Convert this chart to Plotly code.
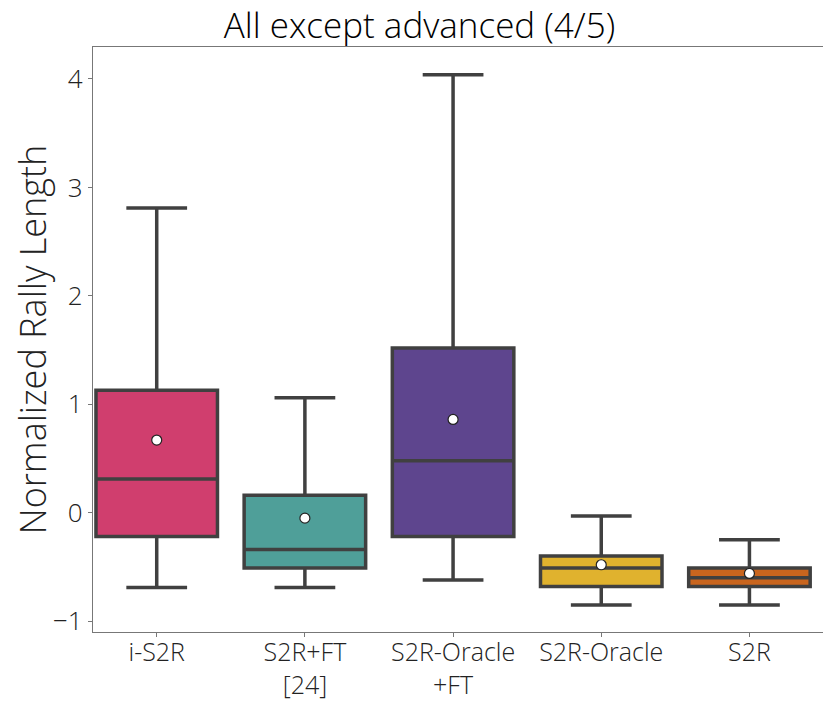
import plotly.graph_objects as go

# box statistics
labels = ["i-S2R", "S2R+FT<br>[24]", "S2R-Oracle<br>+FT", "S2R-Oracle", "S2R"]
lower = [-0.69, -0.69, -0.62, -0.85, -0.85]
q1 = [-0.22, -0.51, -0.22, -0.68, -0.68]
median = [0.31, -0.34, 0.48, -0.51, -0.60]
q3 = [1.13, 0.16, 1.52, -0.40, -0.51]
upper = [2.81, 1.06, 4.04, -0.03, -0.25]
means = [0.67, -0.05, 0.86, -0.48, -0.56]
colors = ["#d03e6e", "#4f9f99", "#5e458e", "#e0b22e", "#c9651e"]

fig = go.Figure()
for i, lab in enumerate(labels):
    fig.add_trace(go.Box(
        x=[lab], q1=[q1[i]], median=[median[i]], q3=[q3[i]],
        lowerfence=[lower[i]], upperfence=[upper[i]],
        fillcolor=colors[i], line=dict(color="#404040", width=3.5),
        width=0.82, whiskerwidth=0.5, showlegend=False, hoverinfo="skip"))

fig.add_trace(go.Scatter(
    x=labels, y=means, mode="markers", showlegend=False,
    marker=dict(color="white", size=10, line=dict(color="#222", width=1.2))))

# page body has an 8px margin, so the figure is sized to fill the rest
fig.update_layout(
    width=823, height=694,
    title=dict(text="All except advanced (4/5)", x=0.5, xanchor="center",
               y=0.974, yanchor="middle",
               font=dict(size=35, color="black", weight=300)),
    font=dict(family="Open Sans", color="#222", weight=300),
    plot_bgcolor="white", paper_bgcolor="white",
    margin=dict(l=85, r=6, t=39, b=70),
    xaxis=dict(range=[-0.43, 4.51], showline=True, mirror=True, linecolor="#777",
               linewidth=1.3, ticks="outside", ticklen=4, tickcolor="#777",
               automargin=False, ticklabelstandoff=-6,
               tickfont=dict(size=25, color="#222", weight=300), showgrid=False),
    yaxis=dict(range=[-1.10, 4.295], showline=True, mirror=True, linecolor="#777",
               linewidth=1.3, ticks="outside", ticklen=4, tickcolor="#777",
               automargin=False,
               tickvals=[-1, 0, 1, 2, 3, 4], ticktext=["\u22121", "0", "1", "2", "3", "4"],
               tickfont=dict(size=26, color="#222", weight=300), showgrid=False, zeroline=False,
               title=dict(text="Normalized Rally Length",
                          font=dict(size=36, color="#222", weight=300), standoff=12)),
)

fig.write_html("out.html")
